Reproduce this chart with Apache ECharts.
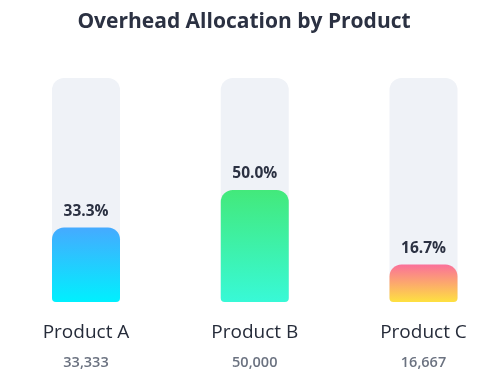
<!DOCTYPE html>
<html><head><meta charset="utf-8">
<script src="https://cdn.jsdelivr.net/npm/echarts@6/dist/echarts.min.js"></script>
<style>html,body{margin:0;padding:0;background:#fff}#c{width:488px;height:392px}</style>
</head><body><div id="c"></div>
<script>
var categories = ['Product A', 'Product B', 'Product C'];
var amounts = [33333, 50000, 16667];
var percents = [33.3, 50.0, 16.7];
var gradients = [['#45aaff', '#00f0fe'], ['#43e97b', '#38f9d7'], ['#fa709a', '#fee140']];

var chart = echarts.init(document.getElementById('c'));
var font = '"Open Sans", "Noto Sans", sans-serif';
chart.setOption({
  animation: false,
  title: {
    text: 'Overhead Allocation by Product', left: 'center', top: 7,
    textStyle: { fontFamily: font, fontSize: 21, fontWeight: 'bold', color: '#2b3142' }
  },
  grid: { left: 86, right: 64.5, top: 78, bottom: 90 },
  xAxis: {
    type: 'category', data: categories, boundaryGap: false,
    axisLine: { show: false }, axisTick: { show: false },
    axisLabel: {
      margin: 16,
      formatter: function (v, i) { return '{n|' + v + '}\n{v|' + amounts[i].toLocaleString('en-US') + '}'; },
      rich: {
        n: { fontFamily: font, fontSize: 19, fontWeight: 500, color: '#262c3a', lineHeight: 30 },
        v: { fontFamily: font, fontSize: 14.5, fontWeight: 600, color: '#6b7280', lineHeight: 30 }
      }
    }
  },
  yAxis: { type: 'value', min: 0, max: 100, show: false, splitLine: { show: false } },
  series: [{
    type: 'bar', barWidth: 68,
    showBackground: true,
    backgroundStyle: { color: '#eff2f7', borderRadius: [12, 12, 4, 4] },
    data: percents.map(function (p, i) {
      return {
        value: p,
        itemStyle: {
          borderRadius: [12, 12, 4, 4],
          color: new echarts.graphic.LinearGradient(0, 0, 0, 1, [
            { offset: 0, color: gradients[i][0] }, { offset: 1, color: gradients[i][1] }
          ])
        }
      };
    }),
    label: {
      show: true, position: 'top', distance: 8,
      formatter: function (p) { return p.value.toFixed(1) + '%'; },
      fontFamily: font, fontSize: 15.5, fontWeight: 'bold', color: '#2b3142'
    }
  }]
});
</script></body></html>
